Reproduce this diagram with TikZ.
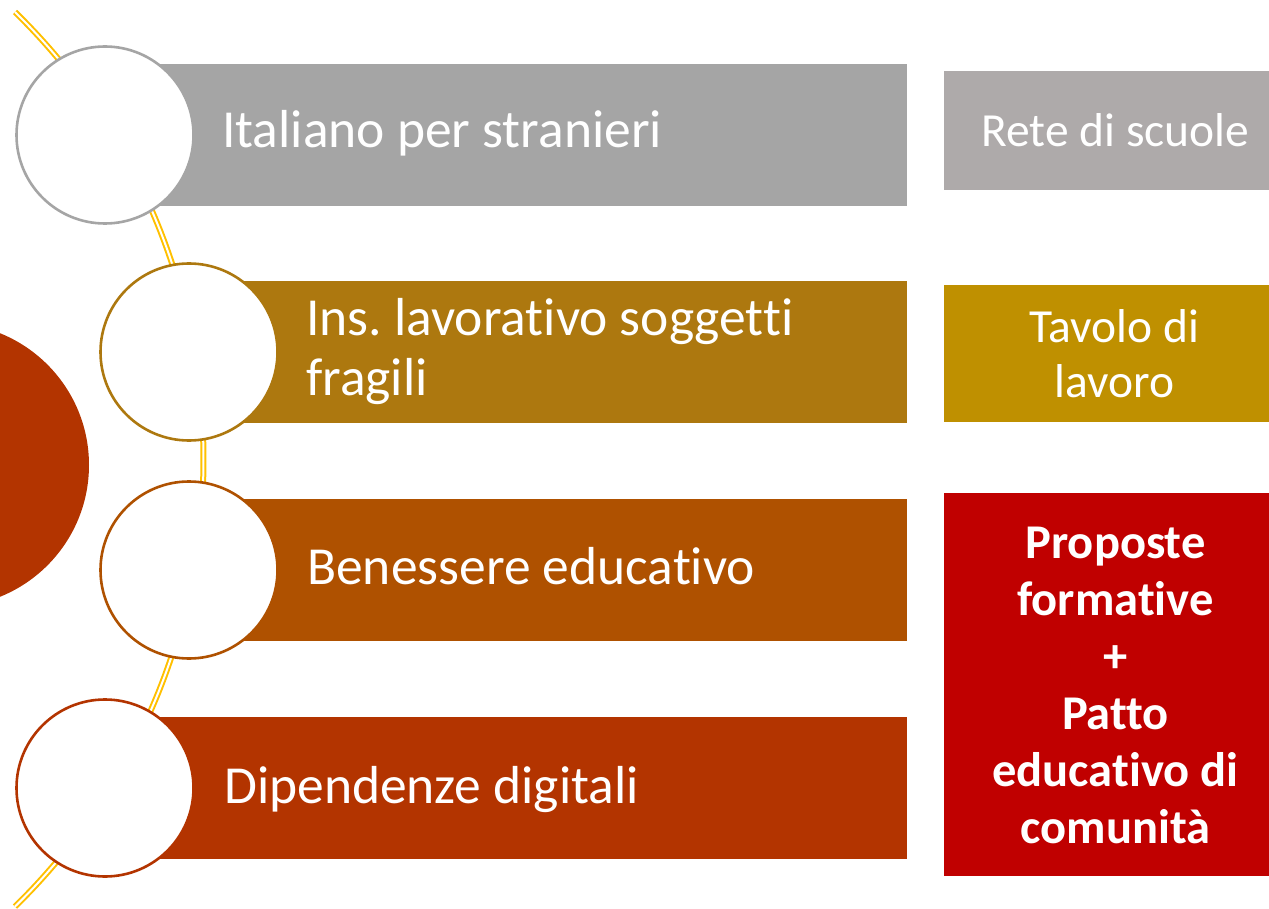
\documentclass[tikz,border=0pt]{standalone}
\usepackage{fontspec}
\setmainfont{Carlito}[Ligatures={NoCommon}]
\usetikzlibrary{positioning}
\frenchspacing

\definecolor{lineGold}{HTML}{FFC000}
\definecolor{barGrey}{HTML}{A5A5A5}
\definecolor{barGold}{HTML}{AD780F}
\definecolor{barAmber}{HTML}{AF5100}
\definecolor{barRust}{HTML}{B33400}
\definecolor{boxGrey}{HTML}{AEAAAA}
\definecolor{boxGold}{HTML}{BF9000}
\definecolor{boxRed}{HTML}{C00000}

\begin{document}
\begin{tikzpicture}[x=1pt, y=-1pt,
  bar/.style={rectangle, inner sep=0pt, minimum height=142pt, anchor=west},
  bartext/.style={text=white, align=left, inner sep=0pt, font=\fontsize{53.5}{60}\selectfont},
  ring/.style={circle, fill=white, line width=2.6pt, minimum size=177pt, inner sep=0pt},
  sidebox/.style={rectangle, inner sep=0pt, minimum width=325pt},
  boxtext/.style={text=white, align=center, inner sep=0pt, font=\fontsize{47.5}{55}\selectfont}]
  \useasboundingbox (0,0) rectangle (1269,909);
  % golden thread behind the rings
  \draw[lineGold, line width=2pt, double=white, double distance=2pt]
    (15,12) arc[start angle=-45.7, end angle=45.7, radius=625];
  % half disc on the left
  \fill[barRust] (-53,465) circle (142);
  % bars
  \node[bar, fill=barGrey, minimum width=802pt] (b1) at (105,135) {};
  \node[bar, fill=barGold, minimum width=718pt] (b2) at (189,352) {};
  \node[bar, fill=barAmber, minimum width=718pt] (b3) at (189,570) {};
  \node[bar, fill=barRust, minimum width=802pt] (b4) at (105,788) {};
  % rings
  \node[ring, draw=barGrey] (r1) at (105,135) {};
  \node[ring, draw=barGold] (r2) at (189,352) {};
  \node[ring, draw=barAmber] (r3) at (189,570) {};
  \node[ring, draw=barRust] (r4) at (105,788) {};
  % bar labels
  \node[bartext, anchor=base west] (t1) at (222,148) {Italiano per stranieri};
  \node[bartext, anchor=west] (t2) at (306,352) {Ins. lavorativo soggetti\\fragili};
  \node[bartext, anchor=base west] (t3) at (307,584) {Benessere educativo};
  \node[bartext, anchor=base west] (t4) at (224,803) {Dipendenze digitali};
  % boxes on the right
  \node[sidebox, fill=boxGrey, minimum height=119pt] (s1) at (1106.5,130.5) {};
  \node[sidebox, fill=boxGold, minimum height=137pt] (s2) at (1106.5,353.5) {};
  \node[sidebox, fill=boxRed, minimum height=383pt] (s3) at (1106.5,684.5) {};
  \node[boxtext] (l1) at ([xshift=9pt]s1.center) {Rete di scuole};
  \node[boxtext] (l2) at ([xshift=8pt]s2.center) {Tavolo di\\lavoro};
  \node[boxtext, font=\fontsize{48.5}{57}\selectfont\bfseries] (l3) at ([xshift=9pt, yshift=-1pt]s3.center)
    {Proposte\\formative\\+\\Patto\\educativo di\\comunità};
\end{tikzpicture}
\end{document}
